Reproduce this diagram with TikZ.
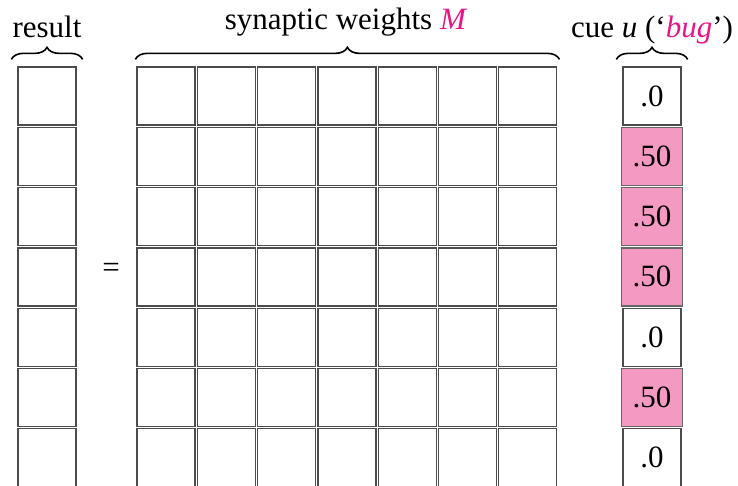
\documentclass[tikz,border=0pt]{standalone}
\usepackage{fontspec}
\setmainfont{Liberation Serif}
\usepackage{xcolor}
\usetikzlibrary{decorations.pathreplacing,positioning}
\definecolor{cuepink}{RGB}{244,154,194}
\definecolor{magtext}{RGB}{232,22,132}

\begin{document}
\begin{tikzpicture}[x=1pt,y=-1pt,
    font=\fontsize{31}{35}\selectfont,
    cell/.style={draw=black!70,line width=1.3pt,fill=white,minimum width=58pt,minimum height=58pt,inner sep=0pt},
    pinkcell/.style={cell,fill=cuepink,draw=black!60,minimum width=61pt},
    curly/.style={decorate,decoration={brace,amplitude=12pt},line width=1.6pt}]
  \useasboundingbox (0,0) rectangle (738,485);
  % result column and cue column
  \foreach \i/\v/\s in {1/.0/cell,2/.50/pinkcell,3/.50/pinkcell,4/.50/pinkcell,5/.0/cell,6/.50/pinkcell,7/.0/cell} {
    \node[cell] (res-\i) at (47,{96+60.3*(\i-1)}) {};
    \node[\s] (cue-\i) at (652,{96+60.3*(\i-1)}) {\v};
  }
  % weight matrix
  \foreach \i in {1,...,7} {
    \foreach \j in {1,...,7} {
      \node[cell] (w-\i-\j) at ({166+60.3*(\j-1)},{96+60.3*(\i-1)}) {};
    }
  }
  \node (eq) at (111,270) {=};
  % braces and labels
  \draw[curly] ([xshift=-6pt,yshift=7pt]res-1.north west) -- ([xshift=6pt,yshift=7pt]res-1.north east);
  \draw[curly] ([xshift=-1pt,yshift=7pt]w-1-1.north west) -- ([xshift=2pt,yshift=7pt]w-1-7.north east);
  \draw[curly] ([xshift=-6pt,yshift=7pt]cue-1.north west) -- ([xshift=6pt,yshift=7pt]cue-1.north east);
  \node[anchor=base] (res-lbl) at (47,37) {result};
  \node[anchor=base] (w-lbl) at (346,29) {synaptic weights \textcolor{magtext}{\textit{M}}};
  \node[anchor=base] (cue-lbl) at (652,37) {cue \textit{u} (`\textcolor{magtext}{\textit{bug}}')};
\end{tikzpicture}
\end{document}
